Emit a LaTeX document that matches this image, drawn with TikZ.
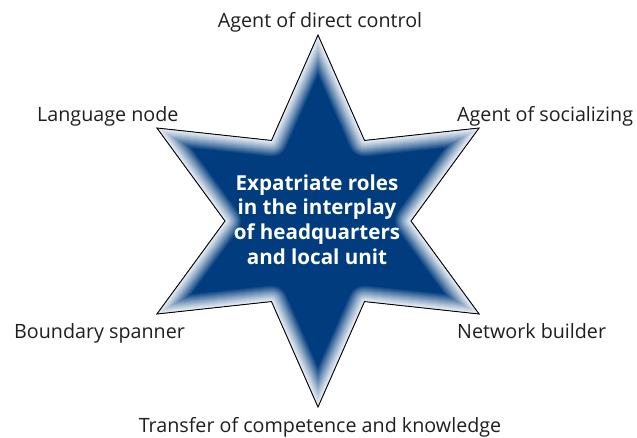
\documentclass[tikz,border=0pt]{standalone}
\usepackage{fontspec}
\setmainfont{Open Sans}
\begin{document}
\begin{tikzpicture}[x=1pt,y=-1pt,
  lbl/.style={font=\fontsize{19.7}{23}\selectfont, text=black!88, inner sep=0pt},
  ctr/.style={font=\fontsize{20.6}{24.8}\selectfont\bfseries, text=white, align=center, inner sep=0pt}]
\definecolor{starblue}{HTML}{003C7E}
\useasboundingbox (0,0) rectangle (637,437);
\foreach \i in {0,...,11} {
  \pgfmathsetmacro\rad{mod(\i,2)==0 ? 186 : 93}
  \coordinate (s\i) at ([shift={(318,221)}]90+30*\i:\rad);
}
\newcommand\starpath{(s0)--(s1)--(s2)--(s3)--(s4)--(s5)--(s6)--(s7)--(s8)--(s9)--(s10)--(s11)--cycle}
\begin{scope}
  \clip \starpath;
  \fill[starblue] \starpath;
  \foreach \d in {17,16,...,1} {
    \pgfmathsetmacro\m{6+94*(\d/17)^1.2}
    \draw[line width=2*\d, color=starblue!\m!white, line join=round] \starpath;
  }
\end{scope}
\draw[black, line width=0.9pt, line join=miter] \starpath;
\node[ctr] (c) at (317,219.5) {Expatriate roles\\in the interplay\\of headquarters\\and local unit};
\node[lbl, anchor=base] (t1) at (320,27) {Agent of direct control};
\node[lbl, anchor=base west] (t2) at (37,121.7) {Language node};
\node[lbl, anchor=base west] (t3) at (457,121.7) {Agent of socializing};
\node[lbl, anchor=base west] (t4) at (14,338) {Boundary spanner};
\node[lbl, anchor=base west] (t5) at (457,338) {Network builder};
\node[lbl, anchor=base] (t6) at (320,432) {Transfer of competence and knowledge};
\end{tikzpicture}
\end{document}
